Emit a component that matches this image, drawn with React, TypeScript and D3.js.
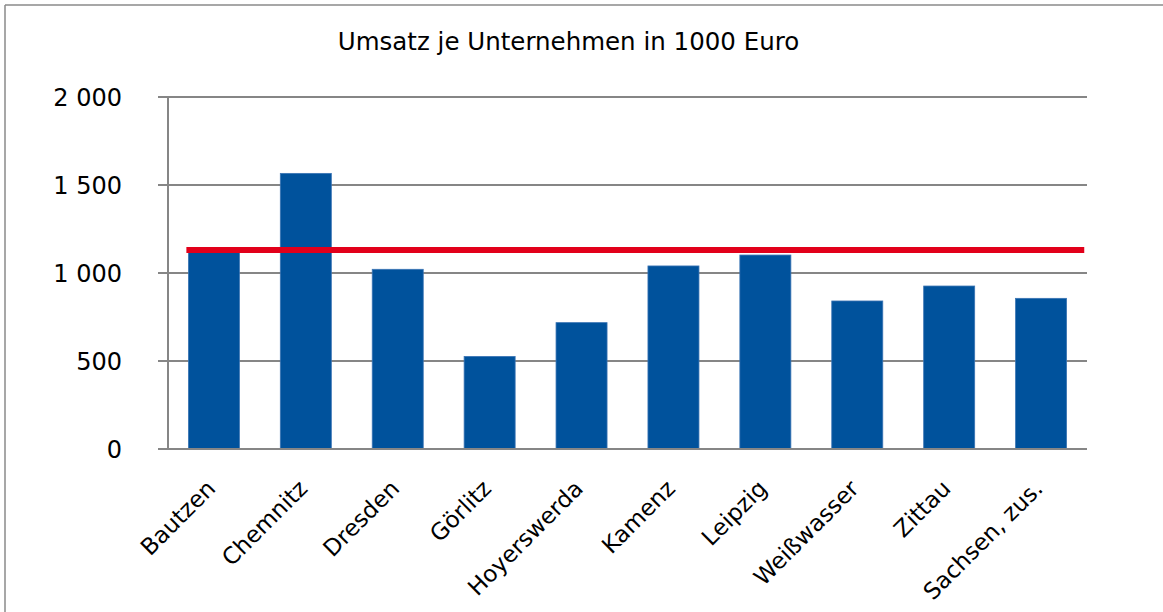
import React from "react";
import * as d3 from "d3";

const title = "Umsatz je Unternehmen in 1000 Euro";
const categories = ["Bautzen", "Chemnitz", "Dresden", "Görlitz", "Hoyerswerda", "Kamenz", "Leipzig", "Weißwasser", "Zittau", "Sachsen, zus."];
const values = [1120, 1566, 1021, 526, 718, 1040, 1102, 841, 926, 856];
const averageValue = 1131;
const yTicks = [0, 500, 1000, 1500, 2000];

const W = 1163;
const H = 612;
const plotLeft = 168;
const plotRight = 1087;
const plotTop = 97;
const plotBottom = 449;
const FONT = "'DejaVu Sans', Verdana, sans-serif";
const GRID = "#868686";

const fmt = d3.formatLocale({ decimal: ",", thousands: " ", grouping: [3], currency: ["", ""] }).format(",");

export default function App() {
  const x = d3.scaleBand<string>().domain(categories).range([plotLeft, plotRight]).paddingInner(0.445).paddingOuter(0.222);
  const y = d3.scaleLinear().domain([0, 2000]).range([plotBottom, plotTop]);
  const step = x.step();

  return (
    <svg width={W} height={H} style={{ position: "absolute", left: 0, top: 0, background: "#fff" }}>
      {/* outer frame */}
      <line x1={5} y1={5} x2={W} y2={5} stroke="#8a8a8a" strokeWidth={1.5} />
      <line x1={5} y1={5} x2={5} y2={H} stroke="#8a8a8a" strokeWidth={1.5} />

      <text x={568.5} y={50} textAnchor="middle" fontFamily={FONT} fontSize={24.5} fill="#000">
        {title}
      </text>

      {/* gridlines + y ticks */}
      {yTicks.map((t) => (
        <g key={t}>
          <line x1={plotLeft - 10} x2={plotRight} y1={y(t)} y2={y(t)} stroke={GRID} strokeWidth={2} />
          <text x={122} y={y(t)} dy="0.36em" textAnchor="end" fontFamily={FONT} fontSize={24} fill="#000">
            {fmt(t)}
          </text>
        </g>
      ))}
      <line x1={plotLeft} x2={plotLeft} y1={plotTop} y2={plotBottom} stroke={GRID} strokeWidth={2} />

      {/* bars */}
      {categories.map((c, i) => (
        <rect
          key={c}
          x={x(c)}
          y={y(values[i])}
          width={x.bandwidth()}
          height={y(0) - y(values[i])}
          fill="#00529C"
          stroke="#3a74b4"
          strokeWidth={0.8}
        />
      ))}

      {/* axis line on top of bars */}
      <line x1={plotLeft - 10} x2={plotRight} y1={y(0)} y2={y(0)} stroke={GRID} strokeWidth={2} />

      {/* average line */}
      <line
        x1={plotLeft + step * 0.2}
        x2={plotRight - step * 0.03}
        y1={y(averageValue)}
        y2={y(averageValue)}
        stroke="#E2001A"
        strokeWidth={6}
      />

      {/* x labels */}
      {categories.map((c) => {
        const cx = (x(c) as number) + x.bandwidth() / 2;
        return (
          <text
            key={c}
            transform={`translate(${cx + 3},${plotBottom + 41}) rotate(-45)`}
            textAnchor="end"
            fontFamily={FONT}
            fontSize={23}
            fill="#000"
          >
            {c}
          </text>
        );
      })}
    </svg>
  );
}
